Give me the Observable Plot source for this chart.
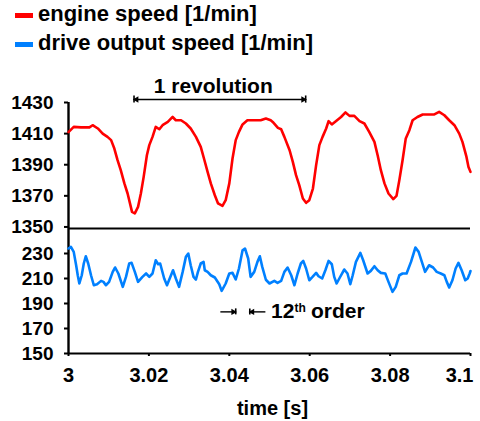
<!DOCTYPE html>
<html><head><meta charset="utf-8">
<script src="https://cdn.jsdelivr.net/npm/d3@7"></script>
<script src="https://cdn.jsdelivr.net/npm/@observablehq/plot@0.6"></script>
<style>
body{margin:0;background:#fff;}
#chart{position:relative;width:480px;height:421px;font-family:"Liberation Sans",Arial,sans-serif;font-weight:bold;color:#000;overflow:hidden;}
#legend{position:absolute;left:0;top:0;width:480px;height:60px;}
.row{position:absolute;left:0;width:480px;height:22px;}
.sw{position:absolute;left:15px;width:18px;height:5px;}
.lt{position:absolute;left:38px;font-size:22px;line-height:22px;white-space:nowrap;}
#top{position:absolute;left:0;top:60px;}
#bottom{position:absolute;left:0;top:228px;}
</style></head><body>
<div id="chart">
  <div id="legend"></div>
  <div id="top"></div>
  <div id="bottom"></div>
</div>
<script>
// ---------- data ----------
const seriesNames = ["engine speed [1/min]", "drive output speed [1/min]"];
const seriesColors = ["#ff0000", "#0080ff"];

const engineTime = [3.0000,3.0013,3.0031,3.0052,3.0060,3.0073,3.0085,3.0097,3.0106,3.0114,3.0122,3.0130,3.0139,3.0147,3.0154,3.0158,3.0165,3.0173,3.0180,3.0187,3.0195,3.0201,3.0209,3.0217,3.0226,3.0234,3.0247,3.0259,3.0267,3.0280,3.0292,3.0304,3.0317,3.0329,3.0337,3.0346,3.0354,3.0364,3.0372,3.0383,3.0391,3.0400,3.0408,3.0416,3.0424,3.0433,3.0445,3.0462,3.0478,3.0491,3.0503,3.0508,3.0521,3.0529,3.0537,3.0550,3.0558,3.0566,3.0574,3.0583,3.0591,3.0599,3.0608,3.0616,3.0624,3.0632,3.0641,3.0647,3.0655,3.0665,3.0678,3.0689,3.0699,3.0711,3.0724,3.0736,3.0748,3.0761,3.0769,3.0777,3.0786,3.0796,3.0808,3.0816,3.0823,3.0831,3.0839,3.0848,3.0856,3.0868,3.0881,3.0897,3.0910,3.0922,3.0935,3.0947,3.0960,3.0972,3.0980,3.0990,3.0995,3.1000];
const engineSpeed = [1411,1414.3,1414,1414,1415.4,1413.3,1410,1407.9,1405.8,1400.4,1392.9,1386.5,1378,1371.5,1364,1359.7,1358.7,1362.9,1371.5,1382.2,1396.1,1402.6,1407.9,1414.3,1412.8,1415.4,1417.5,1420.7,1418.6,1418.6,1416.5,1413.3,1407.9,1401.5,1394,1385.4,1378,1370.4,1365.1,1363.5,1367.2,1378,1394,1405.8,1411.1,1415.9,1418.6,1418.6,1418.6,1419.7,1418.6,1417.5,1413.7,1412.8,1407.9,1399.3,1391.8,1383.3,1376.9,1368.3,1365.5,1367.2,1374.7,1389.7,1402.6,1407.9,1413.3,1418,1415.9,1418,1420.7,1423.6,1421.4,1421.4,1418,1416.5,1411.1,1404.7,1396.1,1386.5,1378,1371.5,1367.9,1370,1380.1,1392.9,1406.9,1412.2,1418.6,1420.7,1422.3,1422.3,1422.3,1424,1421.8,1418.6,1415.4,1410,1404.7,1395,1388.6,1385.4];

const outputTime = [3.0000,3.0006,3.0013,3.0019,3.0023,3.0027,3.0033,3.0038,3.0043,3.0049,3.0056,3.0063,3.0071,3.0081,3.0087,3.0093,3.0101,3.0110,3.0116,3.0124,3.0135,3.0143,3.0151,3.0157,3.0165,3.0173,3.0184,3.0193,3.0201,3.0209,3.0217,3.0223,3.0228,3.0238,3.0245,3.0255,3.0260,3.0267,3.0275,3.0284,3.0292,3.0298,3.0304,3.0311,3.0317,3.0322,3.0329,3.0336,3.0339,3.0346,3.0354,3.0364,3.0375,3.0381,3.0391,3.0400,3.0408,3.0416,3.0424,3.0433,3.0439,3.0447,3.0453,3.0462,3.0470,3.0476,3.0482,3.0491,3.0500,3.0512,3.0520,3.0529,3.0537,3.0545,3.0554,3.0562,3.0570,3.0578,3.0584,3.0591,3.0599,3.0607,3.0616,3.0622,3.0631,3.0639,3.0647,3.0655,3.0661,3.0667,3.0675,3.0686,3.0694,3.0701,3.0707,3.0715,3.0726,3.0733,3.0744,3.0752,3.0761,3.0769,3.0777,3.0788,3.0796,3.0806,3.0814,3.0823,3.0831,3.0841,3.0852,3.0863,3.0871,3.0879,3.0887,3.0897,3.0907,3.0916,3.0926,3.0935,3.0941,3.0947,3.0955,3.0963,3.0970,3.0978,3.0987,3.0993,3.0998,3.1000];
const outputSpeed = [234,235.3,231.3,220.6,212.6,206,212.6,222,227.8,222,212.6,204.6,205.4,208.1,207.3,204.6,207.3,215.3,218.8,214,203.3,211.3,222,222.5,215.3,207.3,211.3,214,211.3,214,224.6,221.4,222,210,204.6,212.6,216.6,210,203.3,215.3,227.3,230,220.6,211.3,209.2,215.3,222,223.3,216.6,215.3,212.6,210.8,205.4,200.1,206,214,214.5,209.2,218,232.6,234,226,211.3,215.3,223.3,227.8,219.3,209,206,208.1,206.5,208.1,215.3,218.8,212.6,204.6,214,222,224.1,218,208.6,211.3,214.5,211.8,210,216.6,224.1,221.4,211.3,206,210.8,217.2,214,205.4,212.6,223.3,230.5,224.6,214,216.1,219.8,216.6,214.5,214,207.3,199.3,203.3,212.6,214,214,223.3,234.8,231.3,223.3,215.3,220.6,218.8,215.3,214,212.6,207.3,202.8,208.6,218,222.5,216.6,208.6,210,214,216];

const xDomain = [3, 3.1];
const xTicks = [3, 3.02, 3.04, 3.06, 3.08, 3.1];
const xTickLabels = ["3", "3.02", "3.04", "3.06", "3.08", "3.1"];
const xLabel = ["time [s]"];
const engineDomain = [1349, 1430];
const engineTicks = [1350, 1370, 1390, 1410, 1430];
const outputDomain = [150, 250];
const outputTicks = [150, 170, 190, 210, 230];

// annotations (data coordinates)
const revLabel = ["1 revolution"];
const revLabelPos = [3.036, 1435.8];
const revX = [3.0163, 3.0590];
const revY = 1431.9;
const orderParts = ["12", "th", " order"];
const orderLabelPos = [3.0504, 178.2];
const orderX = [3.0379, 3.0416, 3.0451, 3.0491];
const orderY = 183.3;

// ---------- legend ----------
const legend = document.getElementById("legend");
seriesNames.forEach((name, i) => {
  const row = document.createElement("div");
  row.className = "row";
  row.style.top = (i === 0 ? 3 : 32) + "px";
  const sw = document.createElement("div");
  sw.className = "sw";
  sw.style.background = seriesColors[i];
  sw.style.top = "9.5px";
  const lt = document.createElement("div");
  lt.className = "lt";
  lt.style.top = "0px";
  lt.textContent = name;
  row.appendChild(sw); row.appendChild(lt);
  legend.appendChild(row);
});

const baseStyle = {
  background: "transparent",
  overflow: "visible",
  fontFamily: "'Liberation Sans', Arial, sans-serif",
  fontWeight: "bold",
  fontSize: "20px",
  color: "#000"
};
const AX = 2.4;
const intFmt = d3.format("d");

// ---------- top panel ----------
const engineData = engineTime.map((t, i) => ({t, v: engineSpeed[i]}));
const topPlot = Plot.plot({
  width: 480, height: 168,
  marginTop: 42, marginBottom: 0, marginLeft: 68, marginRight: 10,
  style: baseStyle,
  x: {domain: xDomain, axis: null},
  y: {domain: engineDomain},
  marks: [
    Plot.ruleX([xDomain[0]], {y1: engineDomain[0], y2: engineDomain[1], strokeWidth: AX, stroke: "#000"}),
    Plot.axisY({ticks: engineTicks, tickFormat: intFmt, tickSize: 4, tickPadding: 11, strokeWidth: 2, label: null, fontSize: 19, fontWeight: "bold", fill: "#000"}),
    Plot.line(engineData, {x: "t", y: "v", stroke: seriesColors[0], strokeWidth: 2.6}),
    // 1 revolution annotation
    Plot.ruleY([revY], {x1: revX[0], x2: revX[1], stroke: "#000", strokeWidth: 1.4}),
    Plot.ruleX(revX, {y1: revY - 2.3, y2: revY + 2.3, stroke: "#000", strokeWidth: 1.6}),
    Plot.dot([revX[0]], {x: d => d, y: revY, symbol: "triangle", r: 2.4, fill: "#000", rotate: -90, dx: 2.5}),
    Plot.dot([revX[1]], {x: d => d, y: revY, symbol: "triangle", r: 2.4, fill: "#000", rotate: 90, dx: -2.5}),
    Plot.text(revLabel, {x: revLabelPos[0], y: revLabelPos[1], text: d => d, lineAnchor: "bottom", fontSize: 21, fontWeight: "bold", fill: "#000"})
  ]
});
document.getElementById("top").appendChild(topPlot);

// ---------- bottom panel ----------
const outputData = outputTime.map((t, i) => ({t, v: outputSpeed[i]}));
const xLabelData = xTicks.map((x, i) => ({x, label: xTickLabels[i]}));
const bottomPlot = Plot.plot({
  width: 480, height: 193,
  marginTop: 0, marginBottom: 68, marginLeft: 68, marginRight: 10,
  style: baseStyle,
  x: {domain: xDomain},
  y: {domain: outputDomain},
  marks: [
    Plot.ruleY([outputDomain[1]], {stroke: "#000", strokeWidth: 2.2}),
    Plot.ruleY([outputDomain[0]], {stroke: "#000", strokeWidth: 2.2}),
    Plot.ruleX([xDomain[0]], {y1: outputDomain[0], y2: outputDomain[1], strokeWidth: AX, stroke: "#000"}),
    Plot.axisY({ticks: outputTicks, tickFormat: intFmt, tickSize: 4, tickPadding: 11, strokeWidth: 2, label: null, fontSize: 19, fontWeight: "bold", fill: "#000"}),
    Plot.axisX({ticks: xTicks, tickFormat: () => "", tickSize: 3, strokeWidth: 2, label: null}),
    Plot.text(xLabelData.slice(0, -1), {x: "x", text: "label", frameAnchor: "bottom", dy: 22, lineAnchor: "middle", fontSize: 20, fontWeight: "bold", fill: "#000"}),
    Plot.text(xLabelData.slice(-1), {x: "x", text: "label", frameAnchor: "bottom", dy: 22, dx: 3, textAnchor: "end", lineAnchor: "middle", fontSize: 20, fontWeight: "bold", fill: "#000"}),
    Plot.line(outputData, {x: "t", y: "v", stroke: seriesColors[1], strokeWidth: 2.6}),
    // 12th order annotation
    Plot.ruleY([orderY], {x1: orderX[0], x2: orderX[1], stroke: "#000", strokeWidth: 1.4}),
    Plot.ruleY([orderY], {x1: orderX[2], x2: orderX[3], stroke: "#000", strokeWidth: 1.4}),
    Plot.ruleX([orderX[1], orderX[2]], {y1: orderY - 2.4, y2: orderY + 2.4, stroke: "#000", strokeWidth: 1.6}),
    Plot.dot([orderX[1]], {x: d => d, y: orderY, symbol: "triangle", r: 2.4, fill: "#000", rotate: 90, dx: -2.5}),
    Plot.dot([orderX[2]], {x: d => d, y: orderY, symbol: "triangle", r: 2.4, fill: "#000", rotate: -90, dx: 2.5}),
    Plot.text([orderParts[0]], {x: orderLabelPos[0], y: orderLabelPos[1], text: d => d, textAnchor: "start", lineAnchor: "bottom", fontSize: 21, fontWeight: "bold", fill: "#000"}),
    Plot.text([orderParts[1]], {x: orderLabelPos[0], y: orderLabelPos[1], text: d => d, textAnchor: "start", lineAnchor: "bottom", fontSize: 12, fontWeight: "bold", fill: "#000", dx: 23.5, dy: -6.5}),
    Plot.text([orderParts[2]], {x: orderLabelPos[0], y: orderLabelPos[1], text: d => d, textAnchor: "start", lineAnchor: "bottom", fontSize: 21, fontWeight: "bold", fill: "#000", dx: 34}),
    Plot.text(xLabel, {frameAnchor: "bottom", text: d => d, dy: 55, dx: 3, lineAnchor: "middle", fontSize: 20, fontWeight: "bold", fill: "#000"})
  ]
});
document.getElementById("bottom").appendChild(bottomPlot);
</script>
</body></html>
